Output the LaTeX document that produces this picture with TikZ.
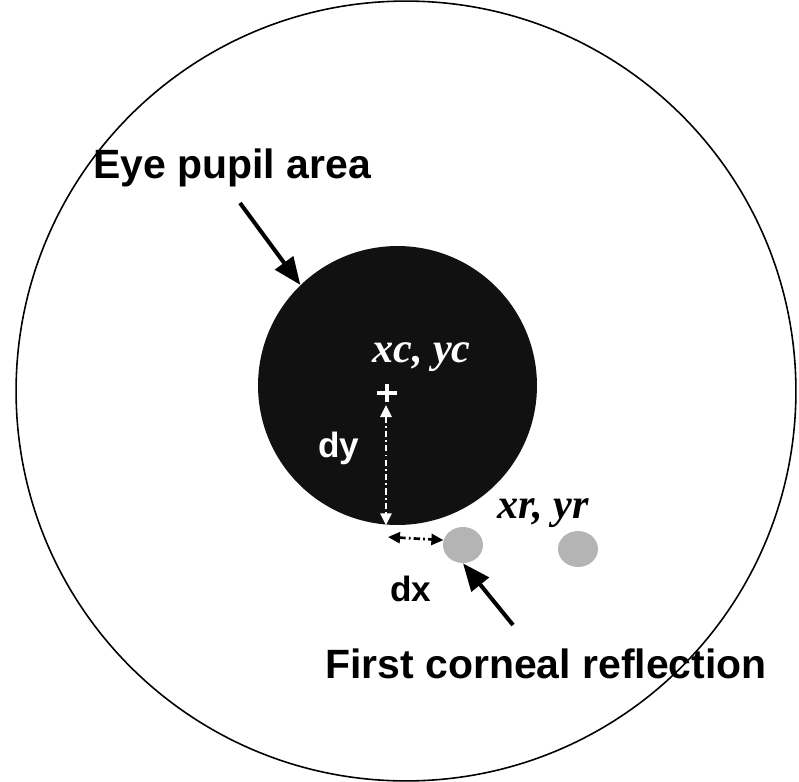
\documentclass[tikz,border=0pt]{standalone}
\usepackage{fontspec}
\setmainfont{Liberation Serif}
\setsansfont{Liberation Sans}
\usepackage{tikz}
\usetikzlibrary{arrows.meta,calc,shapes.geometric}
\definecolor{pupilblack}{RGB}{17,17,17}
\definecolor{spotgray}{RGB}{180,180,180}
\tikzset{
  eyeball/.style={circle, draw=black, line width=0.9pt, minimum size=15.6cm, inner sep=0pt},
  pupilarea/.style={circle, fill=pupilblack, minimum size=5.58cm, inner sep=0pt},
  reflspot/.style={ellipse, fill=spotgray, minimum width=0.8cm, minimum height=0.72cm, inner sep=0pt},
  lbl/.style={font=\sffamily\bfseries\fontsize{23.3}{27}\selectfont, inner sep=0pt, anchor=base west},
  coordlbl/.style={font=\rmfamily\bfseries\itshape\fontsize{24}{28}\selectfont, inner sep=0pt, anchor=base west},
  distlbl/.style={font=\sffamily\bfseries\fontsize{20}{24}\selectfont, inner sep=0pt, anchor=base west},
  bigarrow/.style={-{Triangle[length=0.55cm, width=0.44cm]}, line width=2.3pt, black},
  crossmark/.style={white, line width=2.3pt},
  distline/.style={{Triangle[length=0.24cm, width=0.22cm]}-{Triangle[length=0.24cm, width=0.22cm]}, line width=1.5pt,
                   dash pattern=on 3.6pt off 1.8pt on 1pt off 1.8pt},
  dyarrow/.style={distline, white},
  dxarrow/.style={distline, black}
}

\begin{document}
\begin{tikzpicture}[x=0.02cm, y=-0.02cm]
\useasboundingbox (0,0) rectangle (799,782);
\node[eyeball] (eye) at (406,391) {};
\node[pupilarea] (pupil) at (397.5,385.5) {};
\node[reflspot] (spot1) at (463,545) {};
\node[reflspot] (spot2) at (578,549) {};
\node[lbl] (pupillbl) at (93,178) {Eye pupil area};
\node[lbl] (refllbl) at (325,678) {First corneal reflection};
\node[coordlbl, text=white] (ctrlbl) at (372,362) {xc, yc};
\node[coordlbl, text=black] (refcoordlbl) at (497,518) {xr, yr};
\node[distlbl, text=white] (dylbl) at (318,457) {dy};
\node[distlbl, text=black] (dxlbl) at (390,601) {dx};
\coordinate (ctr) at (387,393);
\draw[crossmark] ($(ctr)+(-10,0)$) -- ($(ctr)+(10,0)$) ($(ctr)+(0,-9)$) -- ($(ctr)+(0,9)$);
\coordinate (dytop) at (386,405);
\draw[dyarrow] (dytop) -- (dytop |- pupil.south);
\coordinate (dxleft) at (388,537);
\draw[dxarrow] (dxleft) -- (spot1.166);
\coordinate (pupiltail) at (240,203);
\draw[bigarrow] (pupiltail) -- (pupil.134);
\coordinate (refltail) at (513,625);
\draw[bigarrow] (refltail) -- (spot1.south);
\end{tikzpicture}
\end{document}
